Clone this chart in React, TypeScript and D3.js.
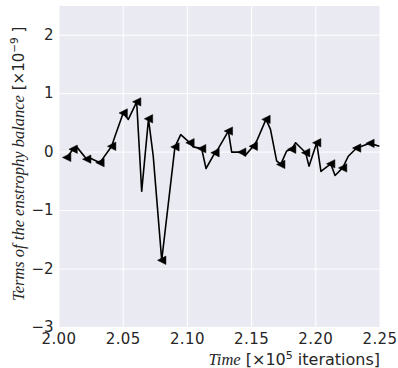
import React from "react";
import * as d3 from "d3";

const times = [
  2.006, 2.011, 2.0138, 2.0216, 2.0241, 2.0319, 2.041, 2.0436, 2.05, 2.054,
  2.0605, 2.0644, 2.0697, 2.0734, 2.08, 2.0903, 2.0948, 2.102, 2.1046, 2.1111,
  2.1145, 2.1215, 2.124, 2.1319, 2.1345, 2.1423, 2.1449, 2.1513, 2.154, 2.1612,
  2.1647, 2.1695, 2.1727, 2.1773, 2.1812, 2.1843, 2.1921, 2.1947, 2.2007, 2.204,
  2.2116, 2.215, 2.2209, 2.2253, 2.2318, 2.2422, 2.2495,
];
const values = [
  -0.09, 0.05, 0.09, -0.12, -0.1, -0.18, 0.1, 0.27, 0.67, 0.56,
  0.86, -0.67, 0.57, -0.07, -1.85, 0.09, 0.3, 0.16, 0.09, 0.06,
  -0.28, -0.01, 0.06, 0.36, 0.0, 0.0, -0.06, 0.1, 0.19, 0.56,
  0.39, -0.15, -0.21, 0.02, 0.05, 0.16, -0.01, -0.24, 0.16, -0.33,
  -0.2, -0.4, -0.27, -0.07, 0.07, 0.15, 0.1,
];
const markerIdx = [0, 1, 3, 5, 6, 8, 10, 12, 14, 15, 17, 19, 21, 23, 25, 27, 29, 32, 34, 36, 38, 40, 42, 44, 45];
const xTicks = [2.0, 2.05, 2.1, 2.15, 2.2, 2.25];
const yTicks = [-3, -2, -1, 0, 1, 2];

const W = 398;
const H = 368;
const plot = { left: 59, right: 380, top: 6, bottom: 327.5 };

export default function App() {
  const x = d3.scaleLinear().domain([2.0, 2.25]).range([plot.left, plot.right]);
  const y = d3.scaleLinear().domain([-3, 2.5]).range([plot.bottom, plot.top]);
  const pts: [number, number][] = times.map((t, i) => [t, values[i]]);
  const line = d3
    .line<[number, number]>()
    .x((d) => x(d[0]))
    .y((d) => y(d[1]));
  const s = 4.2;
  const tri = `M${-s},0L${s},${-s}L${s},${s}Z`;
  const fmtY = (v: number) => (v < 0 ? "\u2212" + Math.abs(v) : String(v));
  const tickColor = "#262626";
  return (
    <svg
      width={W}
      height={H}
      style={{ position: "absolute", left: 0, top: 0, background: "#fff" }}
    >
      <rect
        x={plot.left}
        y={plot.top}
        width={plot.right - plot.left}
        height={plot.bottom - plot.top}
        fill="#EAEAF2"
      />
      {xTicks.map((t) => (
        <line
          key={"gx" + t}
          x1={x(t)}
          x2={x(t)}
          y1={plot.top}
          y2={plot.bottom}
          stroke="#fff"
          strokeWidth={1}
        />
      ))}
      {yTicks.map((v) => (
        <line
          key={"gy" + v}
          x1={plot.left}
          x2={plot.right}
          y1={y(v)}
          y2={y(v)}
          stroke="#fff"
          strokeWidth={1}
        />
      ))}
      <path d={line(pts) || ""} fill="none" stroke="#000" strokeWidth={1.6} strokeLinejoin="round" />
      {markerIdx.map((i) => (
        <path
          key={"m" + i}
          d={tri}
          transform={`translate(${x(times[i])},${y(values[i])})`}
          fill="#000"
          stroke="#000"
          strokeWidth={0.5}
        />
      ))}
      {xTicks.map((t) => (
        <text
          key={"tx" + t}
          x={x(t)}
          y={344}
          textAnchor="middle"
          fontFamily="DejaVu Sans"
          fontSize={15}
          letterSpacing={0.4}
          fill={tickColor}
        >
          {t.toFixed(2)}
        </text>
      ))}
      {yTicks.map((v) => (
        <text
          key={"ty" + v}
          x={53.5}
          y={y(v) + 4.6}
          textAnchor="end"
          fontFamily="DejaVu Sans"
          fontSize={15}
          fill={tickColor}
        >
          {fmtY(v)}
        </text>
      ))}
      <text
        x={380}
        y={365}
        textAnchor="end"
        fontFamily="DejaVu Sans"
        fontSize={16}
        fill={tickColor}
      >
        <tspan fontFamily="Liberation Serif" fontStyle="italic" fontSize={16.5}>
          Time
        </tspan>
        <tspan>{"  [\u00d710"}</tspan>
        <tspan fontSize={11} dy={-6}>
          5
        </tspan>
        <tspan dy={6}>{" iterations]"}</tspan>
      </text>
      <text
        transform="translate(24,301) rotate(-90)"
        textAnchor="start"
        fontFamily="DejaVu Sans"
        fontSize={15}
        fill={tickColor}
      >
        <tspan fontFamily="Liberation Serif" fontStyle="italic" fontSize={16.5}>
          Terms of the enstrophy balance
        </tspan>
        <tspan>{" [\u00d710"}</tspan>
        <tspan fontSize={10.5} dy={-6}>
          {"\u22129"}
        </tspan>
        <tspan dy={6}>{" ]"}</tspan>
      </text>
    </svg>
  );
}
